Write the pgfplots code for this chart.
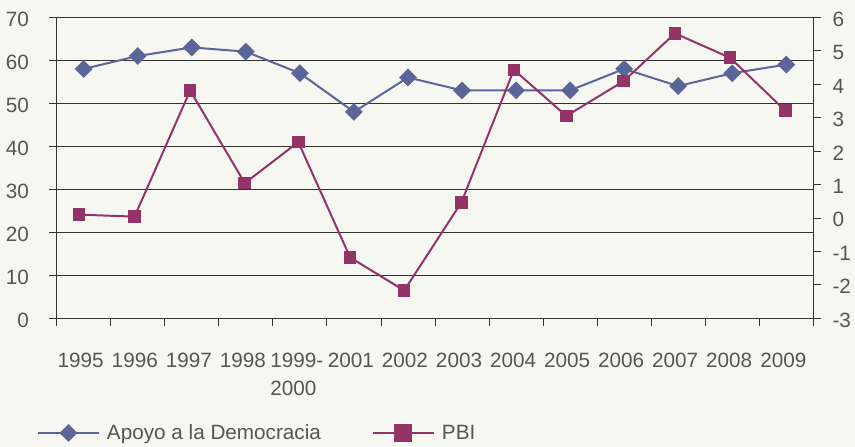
\documentclass[border=0pt]{standalone}
\usepackage{pgfplots}
\pgfplotsset{compat=1.18}
\usepackage{fontspec}
\setmainfont{Liberation Sans}
\definecolor{bg}{RGB}{247,247,242}
\definecolor{apoyo}{RGB}{90,101,153}
\definecolor{pbi}{RGB}{148,51,104}
\definecolor{txt}{RGB}{85,85,85}
\definecolor{gridc}{RGB}{50,50,50}
\begin{document}
\begin{tikzpicture}
\path[use as bounding box, fill=bg] (0,0) rectangle (855pt,447pt);
\pgfplotsset{
  base/.style={
    at={(56.7pt,128.7pt)}, anchor=south west,
    width=756.6pt, height=301pt, scale only axis,
    xmin=-0.5, xmax=13.5, clip=false,
    tick label style={font=\fontsize{20.7}{28}\selectfont, text=txt, inner sep=0pt},
    /pgf/number format/assume math mode=true,
    tick align=outside,
    major tick length=8pt,
    minor tick length=8pt,
    axis line style={draw=gridc, line width=0.9pt, -},
    tick style={draw=gridc, line width=0.9pt},
  }
}
\begin{axis}[base,
  axis x line*=bottom, axis y line*=left,
  ymin=0, ymax=70, ytick={0,10,...,70},
  ymajorgrids, grid style={draw=gridc, line width=0.9pt},
  xtick={0,...,13},
  xticklabels={1995,1996,1997,1998,{1999-\\2000},2001,2002,2003,2004,2005,2006,2007,2008,2009},
  xticklabel style={align=left, anchor=north, yshift=-26.7pt, xshift=-3pt},
  major x tick style={draw=none},
  minor xtick={-0.5,0.5,...,13.5},
  yticklabel style={anchor=east, xshift=-19.7pt, yshift=-2.5pt},
]
\addplot[apoyo, line width=2pt, mark=square*, mark size=5.3pt, mark options={rotate=45, solid}] coordinates {
(0,58) (1,61) (2,63) (3,62) (4,57) (5,48) (6,56) (7,53) (8,53) (9,53) (10,58) (11,54) (12,57) (13,59)
};
\end{axis}
\begin{axis}[base,
  axis x line=none, axis y line*=right,
  ymin=-3, ymax=6, ytick={-3,...,6}, yticklabels={-3,-2,-1,0,1,2,3,4,5,6},
  yticklabel style={anchor=west, xshift=11pt, yshift=-1.8pt},
  legend columns=2,
  legend image code/.code={\draw[mark repeat=2,mark phase=2,#1] plot coordinates {(0pt,0pt) (30.5pt,0pt) (61pt,0pt)};},
  legend style={at={(-0.02604,-0.3811)}, anchor=west, draw=none, fill=none,
    inner sep=0pt, outer sep=0pt,
    font=\fontsize{20.7}{28}\selectfont, text=txt,
    nodes={inner sep=0pt},
    /tikz/every odd column/.append style={column sep=7pt},
    /tikz/every even column/.append style={column sep=51pt}},
]
\addlegendimage{apoyo, line width=2pt, mark=square*, mark size=5.3pt, mark options={rotate=45, solid}}
\addlegendentry{Apoyo a la Democracia}
\addlegendimage{pbi, line width=2pt, mark=square*, mark size=8pt, mark options={solid}}
\addlegendentry{PBI}
\addplot[pbi, line width=2pt, mark=square*, mark size=5.3pt, mark options={solid}, forget plot] coordinates {
(-0.09,0.10) (0.94,0.04) (1.97,3.81) (2.98,1.04) (3.97,2.27) (4.93,-1.18) (5.93,-2.17) (6.99,0.47) (7.96,4.43) (8.93,3.05) (9.99,4.09) (10.94,5.52) (11.96,4.79) (12.98,3.21)
};
\end{axis}
\end{tikzpicture}
\end{document}
